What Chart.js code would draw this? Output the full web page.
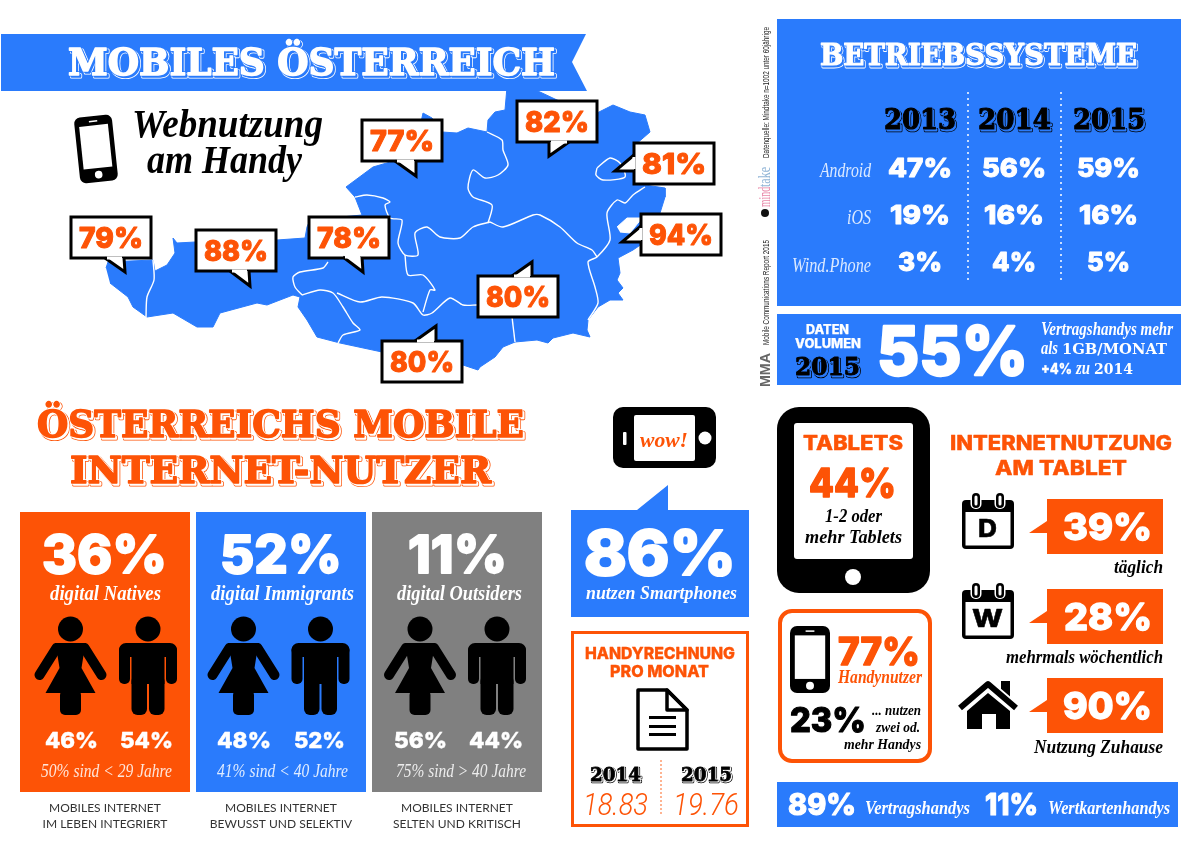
<!DOCTYPE html>
<html>
<head>
<meta charset="utf-8">
<title>Mobiles Österreich</title>
<script src="https://cdn.jsdelivr.net/npm/chart.js@4"></script>
<style>
  html, body { margin: 0; padding: 0; background: #fff; }
  canvas { display: block; }
</style>
</head>
<body>
<canvas id="myChart" width="1200" height="848"></canvas>
<script>
var regionShares = [79, 88, 78, 77, 82, 81, 94, 80, 80];
var osYears = ['2013', '2014', '2015'];
var osNames = ['Android', 'iOS', 'Wind.Phone'];
var androidShares = [47, 56, 59];
var iosShares = [19, 16, 16];
var windPhoneShares = [3, 4, 5];
var userTypes = ['digital Natives', 'digital Immigrants', 'digital Outsiders'];
var userShares = [36, 52, 11];
var femaleShares = [46, 48, 56];
var maleShares = [54, 52, 44];
var ageNotes = ['50% sind < 29 Jahre', '41% sind < 40 Jahre', '75% sind > 40 Jahre'];
var userNotes = [['MOBILES INTERNET', 'IM LEBEN INTEGRIERT'], ['MOBILES INTERNET', 'BEWUSST UND SELEKTIV'], ['MOBILES INTERNET', 'SELTEN UND KRITISCH']];
var smartphoneShare = [86];
var billYears = ['2014', '2015'];
var billValues = ['18.83', '19.76'];
var tabletShare = [44];
var tabletUseShares = [39, 28, 90];
var tabletUseNames = ['täglich', 'mehrmals wöchentlich', 'Nutzung Zuhause'];
var handyShares = [77, 23];
var contractShares = [89, 11];
var dataVolumeShare = [55];

// map drawing (country outline and state borders, not data)
var mapOutline = [[106,268],[108,262],[153,260],[155,271],[167,265],[175,253],[173,238],[177,243],[195,242],[277,240],[305,238],[307,227],[310,220],[362,215],[355,197],[346,187],[373,167],[397,160],[415,150],[423,113],[432,118],[442,132],[457,133],[468,128],[487,132],[488,120],[495,112],[505,110],[507,87],[518,87],[528,87],[540,92],[557,100],[597,113],[613,105],[630,112],[645,115],[650,132],[635,145],[645,185],[665,188],[665,197],[660,213],[655,235],[633,250],[618,258],[620,273],[617,280],[623,288],[618,293],[623,300],[610,300],[598,307],[588,320],[587,330],[590,337],[573,333],[553,338],[548,343],[537,340],[515,342],[503,347],[495,357],[480,367],[478,370],[463,365],[382,352],[340,343],[317,337],[307,320],[298,307],[300,297],[293,295],[267,305],[257,303],[220,313],[213,327],[197,327],[173,313],[147,317],[133,307],[128,297],[110,283]];
var mapLake = [[617,227],[627,218],[642,218],[630,233],[620,232]];
var mapBorders = [
  [[153,260],[154,280],[147,297],[146,317]],
  [[302,295],[295,287],[293,277],[300,272],[323,268],[328,262]],
  [[302,295],[320,290],[333,293],[343,307],[353,323],[360,330],[343,335],[338,343]],
  [[337,293],[360,302],[382,297],[413,303],[423,315],[432,313],[450,298],[463,305],[477,305]],
  [[512,317],[515,342]],
  [[423,312],[430,290],[435,290],[423,275],[408,275],[405,255]],
  [[355,197],[367,195],[383,198],[390,202],[385,205],[390,218],[402,220],[398,243],[405,255],[418,255],[415,233],[427,227],[440,237],[460,238],[473,227],[490,222]],
  [[487,132],[502,140],[503,150],[508,165],[498,175],[485,178],[473,170],[468,188],[473,197],[492,205],[488,223]],
  [[490,222],[503,227],[533,215],[540,215],[560,227],[577,243],[592,250],[597,257]],
  [[645,187],[633,195],[625,203],[617,200],[607,213],[610,240],[597,257],[588,262],[595,287],[598,303],[588,320]],
  [[597,168],[610,158],[620,163],[625,177],[603,180],[596,175],[597,168]]
];

// callout boxes on the map: box x, y, then tail
var regionBoxes = [
  [71,217,[[105,258],[125,272],[124,258]]],
  [196,230,[[230,271],[250,286],[249,271]]],
  [309,217,[[343,257],[363,272],[362,257]]],
  [362,120,[[395,161],[416,176],[416,161]]],
  [517,101,[[549,142],[549,156],[569,142]]],
  [634,143,[[634,155],[615,171],[634,171]]],
  [641,214,[[641,226],[622,242],[641,242]]],
  [478,276,[[512,276],[532,262],[532,276]]],
  [382,341,[[415,341],[436,326],[436,341]]]
];

var BLUE = '#2a7bfc';
var ORANGE = '#fd5306';
var GRAY = '#808080';

function pct(v) { return v + '%'; }
function heavy(s) { return '800 ' + s + 'px Inter'; }
function slab(s) { return 'bold ' + s + 'px "DejaVu Serif"'; }
function script(s) { return 'italic bold ' + s + 'px "Liberation Serif"'; }
function thinScript(s) { return 'italic ' + s + 'px "Liberation Serif"'; }

// text squeezed to run from x0 to x1, big heavy numbers get extra weight
function tx(ctx, str, x0, x1, base, font, color) {
  ctx.save();
  ctx.font = font;
  ctx.fillStyle = color;
  ctx.textAlign = 'left';
  ctx.textBaseline = 'alphabetic';
  var w = ctx.measureText(str).width;
  ctx.translate(x0, base);
  ctx.scale((x1 - x0) / w, 1);
  var m = font.match(/^800 ([\d.]+)px/);
  if (m) {
    var size = parseFloat(m[1]);
    ctx.strokeStyle = color;
    ctx.lineJoin = 'round';
    ctx.lineWidth = size * (size < 25 ? 0.02 : 0.035);
    ctx.strokeText(str, 0, 0);
  }
  ctx.fillText(str, 0, 0);
  ctx.restore();
}

// slab heading with the offset outline behind it
function retro(ctx, str, x0, x1, base, font, color, back, d) {
  ctx.save();
  ctx.font = font;
  ctx.textBaseline = 'alphabetic';
  var w = ctx.measureText(str).width;
  var grow = parseFloat(font.match(/([\d.]+)px/)[1]) * 0.04;
  ctx.translate(x0, base);
  ctx.scale((x1 - x0) / w, 1);
  ctx.lineJoin = 'round';
  ctx.strokeStyle = color;
  ctx.lineWidth = grow + 1.6;
  ctx.strokeText(str, d, d);
  ctx.strokeStyle = back;
  ctx.lineWidth = grow;
  ctx.fillStyle = back;
  ctx.strokeText(str, d, d);
  ctx.fillText(str, d, d);
  ctx.lineWidth = grow + 1.4;
  ctx.strokeText(str, 0, 0);
  ctx.strokeStyle = color;
  ctx.lineWidth = grow;
  ctx.strokeText(str, 0, 0);
  ctx.fillStyle = color;
  ctx.fillText(str, 0, 0);
  ctx.restore();
}

function rect(ctx, x, y, w, h, color) {
  ctx.fillStyle = color;
  ctx.fillRect(x, y, w, h);
}

function round(ctx, x, y, w, h, r, color) {
  ctx.fillStyle = color;
  ctx.beginPath();
  ctx.roundRect(x, y, w, h, r);
  ctx.fill();
}

function dot(ctx, x, y, r, color) {
  ctx.fillStyle = color;
  ctx.beginPath();
  ctx.arc(x, y, r, 0, Math.PI * 2);
  ctx.fill();
}

function poly(ctx, pts) {
  ctx.beginPath();
  pts.forEach(function (p, i) {
    if (i === 0) ctx.moveTo(p[0], p[1]);
    else ctx.lineTo(p[0], p[1]);
  });
  ctx.closePath();
}

function dotted(ctx, x, y0, y1, color, r, step) {
  for (var y = y0; y <= y1; y += step) dot(ctx, x, y, r, color);
}

function woman(ctx, cx) {
  dot(ctx, cx, 629, 12.5, '#000');
  ctx.fillStyle = '#000';
  poly(ctx, [[cx - 15, 643], [cx + 15, 643], [cx + 11, 668], [cx + 25, 693], [cx - 25, 693], [cx - 11, 668]]);
  ctx.fill();
  round(ctx, cx - 10.5, 690, 21, 25, 5, '#000');
  ctx.strokeStyle = '#000';
  ctx.lineWidth = 10;
  ctx.lineCap = 'round';
  ctx.beginPath();
  ctx.moveTo(cx - 14, 648);
  ctx.lineTo(cx - 31, 675);
  ctx.moveTo(cx + 14, 648);
  ctx.lineTo(cx + 31, 675);
  ctx.stroke();
  ctx.lineCap = 'butt';
}

function man(ctx, cx) {
  dot(ctx, cx, 629, 12.5, '#000');
  round(ctx, cx - 29, 643, 58, 14, 7, '#000');
  round(ctx, cx - 29, 645, 11, 39, 5, '#000');
  round(ctx, cx + 18, 645, 11, 39, 5, '#000');
  rect(ctx, cx - 16.5, 648, 33, 36, '#000');
  round(ctx, cx - 16.5, 675, 15.5, 40, 6, '#000');
  round(ctx, cx + 1, 675, 15.5, 40, 6, '#000');
}

function calendar(ctx, y, letter) {
  round(ctx, 962, y + 7, 52, 49, 4, '#000');
  rect(ctx, 965.5, y + 19, 45, 33.5, '#fff');
  [976, 1000].forEach(function (x) {
    round(ctx, x - 5.5, y - 1, 11, 17, 5, '#fff');
    round(ctx, x - 4, y, 8, 15, 4, '#000');
    round(ctx, x - 1.5, y + 2.5, 3, 10, 1.5, '#fff');
  });
  tx(ctx, letter, letter === 'W' ? 972 : 978, letter === 'W' ? 1003 : 997, y + 44, heavy(24), '#000');
}

function house(ctx) {
  rect(ctx, 1001, 681, 9, 16, '#000');
  ctx.strokeStyle = '#fff';
  ctx.lineWidth = 11;
  ctx.beginPath();
  ctx.moveTo(961, 708);
  ctx.lineTo(988, 685);
  ctx.lineTo(1015, 708);
  ctx.stroke();
  ctx.strokeStyle = '#000';
  ctx.lineWidth = 6;
  ctx.beginPath();
  ctx.moveTo(960, 708);
  ctx.lineTo(988, 684);
  ctx.lineTo(1016, 708);
  ctx.stroke();
  ctx.fillStyle = '#000';
  poly(ctx, [[967, 711], [988, 693], [1010, 711], [1010, 729], [996, 729], [996, 714], [982, 714], [982, 729], [967, 729]]);
  ctx.fill();
}

function handy(ctx, x, y, w, h, r) {
  round(ctx, x, y, w, h, r, '#000');
  rect(ctx, x + w * 0.12, y + h * 0.14, w * 0.76, h * 0.65, '#fff');
  dot(ctx, x + w / 2, y + h * 0.89, w * 0.1, '#fff');
  rect(ctx, x + w * 0.39, y + h * 0.065, w * 0.22, 1.5, '#fff');
}

function drawMapSection(ctx) {
  ctx.fillStyle = BLUE;
  poly(ctx, [[1, 34], [586, 34], [572, 62], [587, 91], [1, 91]]);
  ctx.fill();
  retro(ctx, 'MOBILES ÖSTERREICH', 68, 555, 75, slab(38), '#fff', BLUE, 2);

  ctx.save();
  ctx.translate(96, 149);
  ctx.rotate(-6 * Math.PI / 180);
  handy(ctx, -19, -33, 38, 66, 6);
  ctx.restore();
  tx(ctx, 'Webnutzung', 132, 323, 137, script(40), '#000');
  tx(ctx, 'am Handy', 147, 302, 173, script(40), '#000');

  regionShares.forEach(function (v, i) {
    var b = regionBoxes[i];
    var tail = b[2];
    var flat = tail[0][1] === tail[2][1];
    ctx.fillStyle = '#fff';
    ctx.strokeStyle = '#000';
    ctx.lineWidth = 3;
    ctx.lineJoin = 'miter';
    ctx.fillRect(b[0], b[1], 80, 41);
    ctx.strokeRect(b[0], b[1], 80, 41);
    poly(ctx, tail);
    ctx.fill();
    ctx.beginPath();
    ctx.moveTo(tail[0][0], tail[0][1]);
    ctx.lineTo(tail[1][0], tail[1][1]);
    ctx.lineTo(tail[2][0], tail[2][1]);
    ctx.stroke();
    // cover the box edge where the tail joins
    ctx.strokeStyle = '#fff';
    ctx.beginPath();
    ctx.moveTo(tail[0][0] + (flat ? 2 : 0), tail[0][1] + (flat ? 0 : 2));
    ctx.lineTo(tail[2][0] - (flat ? 2 : 0), tail[2][1] - (flat ? 0 : 2));
    ctx.stroke();
    tx(ctx, pct(v), b[0] + 8, b[0] + 72, b[1] + 31, heavy(29), ORANGE);
  });
}

function drawSidebar(ctx) {
  function vtext(str, y0, y1, x, font, color) {
    ctx.save();
    ctx.translate(x, y1);
    ctx.rotate(-Math.PI / 2);
    tx(ctx, str, 0, y1 - y0, 0, font, color);
    ctx.restore();
  }
  vtext('Datenquelle: Mindtake n=1002 unter 60jährige', 27, 158, 769, '9.5px "Liberation Sans"', '#222');
  vtext('mind', 187, 207, 770, '17px "Liberation Serif"', '#e887a8');
  vtext('take', 167, 187, 770, '17px "Liberation Serif"', '#8fb4d6');
  dot(ctx, 765, 213, 4, '#111');
  vtext('Mobile Communications Report 2015', 240, 345, 769, '9.5px "Liberation Sans"', '#222');
  vtext('MMA', 353, 387, 770, 'bold 15px "Liberation Sans"', '#666');
}

function drawSystems(ctx) {
  rect(ctx, 777, 19, 404, 287, BLUE);
  retro(ctx, 'BETRIEBSSYSTEME', 820, 1137, 65, slab(30), '#fff', BLUE, 1.5);
  var yearX = [[884, 956], [978, 1051], [1073, 1145]];
  var shareX = [[888, 952], [982, 1046], [1077, 1140]];
  osYears.forEach(function (y, i) {
    retro(ctx, y, yearX[i][0], yearX[i][1], 129, slab(28), '#000', BLUE, 1.5);
  });
  dotted(ctx, 968, 93, 283, '#fff', 1, 6);
  dotted(ctx, 1061, 93, 283, '#fff', 1, 6);
  [androidShares, iosShares, windPhoneShares].forEach(function (row, r) {
    var base = [177, 224, 271][r];
    row.forEach(function (v, i) {
      var ins = r === 2 ? 10 : (r === 1 ? 2 : 0);
      tx(ctx, pct(v), shareX[i][0] + ins, shareX[i][1] - ins, base, heavy(26), '#fff');
    });
  });
  tx(ctx, osNames[0], 820, 871, 177, thinScript(20), '#dbe9ff');
  tx(ctx, osNames[1], 847, 871, 224, thinScript(20), '#dbe9ff');
  tx(ctx, osNames[2], 792, 871, 272, thinScript(20), '#dbe9ff');

  rect(ctx, 777, 314, 404, 71, BLUE);
  tx(ctx, 'DATEN', 806, 849, 334, heavy(12.5), '#fff');
  tx(ctx, 'VOLUMEN', 795, 861, 348, heavy(12.5), '#fff');
  retro(ctx, '2015', 795, 860, 375, slab(24), '#000', BLUE, 1.5);
  tx(ctx, pct(dataVolumeShare[0]), 877, 1028, 375, heavy(68), '#fff');
  tx(ctx, 'Vertragshandys mehr', 1041, 1173, 335, script(19), '#fff');
  tx(ctx, 'als', 1041, 1058, 354, script(19), '#fff');
  tx(ctx, '1GB/MONAT', 1062, 1167, 354, slab(15), '#fff');
  tx(ctx, '+4%', 1041, 1072, 374, heavy(15), '#fff');
  tx(ctx, 'zu', 1076, 1090, 374, script(19), '#fff');
  tx(ctx, '2014', 1094, 1133, 374, slab(15), '#fff');
}

function drawUsers(ctx) {
  retro(ctx, 'ÖSTERREICHS MOBILE', 37, 524, 437, slab(38), ORANGE, '#fff', 2);
  retro(ctx, 'INTERNET-NUTZER', 70, 491, 483, slab(38), ORANGE, '#fff', 2);
  var panelX = [20, 196, 372];
  var panelColors = [ORANGE, BLUE, GRAY];
  var shareX = [[42, 167], [220, 342], [408, 507]];
  var typeX = [[50, 161], [211, 354], [397, 522]];
  var womanX = [70.5, 243.5, 420];
  var manX = [148, 320.5, 497];
  var femaleX = [[45, 98], [217, 271], [394, 447]];
  var maleX = [[120, 173], [294, 345], [469, 523]];
  var noteX = [[41, 172], [217, 348], [396, 526]];
  userShares.forEach(function (v, i) {
    rect(ctx, panelX[i], 512, 170, 280, panelColors[i]);
    tx(ctx, pct(v), shareX[i][0], shareX[i][1], 573, heavy(52), '#fff');
    tx(ctx, userTypes[i], typeX[i][0], typeX[i][1], 600, script(21), '#fff');
    woman(ctx, womanX[i]);
    man(ctx, manX[i]);
    tx(ctx, pct(femaleShares[i]), femaleX[i][0], femaleX[i][1], 748, heavy(22), '#fff');
    tx(ctx, pct(maleShares[i]), maleX[i][0], maleX[i][1], 748, heavy(22), '#fff');
    tx(ctx, ageNotes[i], noteX[i][0], noteX[i][1], 777, thinScript(19), 'rgba(255,255,255,0.85)');
    ctx.save();
    ctx.font = '12px Lato';
    ctx.fillStyle = '#333';
    ctx.textAlign = 'center';
    ctx.fillText(userNotes[i][0], panelX[i] + 85, 812);
    ctx.fillText(userNotes[i][1], panelX[i] + 85, 828);
    ctx.restore();
  });
}

function drawMiddle(ctx) {
  round(ctx, 613, 407, 103, 61, 10, '#000');
  round(ctx, 634, 415, 61, 46, 2, '#fff');
  round(ctx, 623, 432, 3.5, 13, 1, '#fff');
  dot(ctx, 705, 438, 6.5, '#fff');
  tx(ctx, 'wow!', 640, 688, 447, script(22), ORANGE);

  ctx.fillStyle = BLUE;
  poly(ctx, [[571, 510], [637, 510], [668, 485], [668, 510], [749, 510], [749, 617], [571, 617]]);
  ctx.fill();
  tx(ctx, pct(smartphoneShare[0]), 584, 736, 575, heavy(62), '#fff');
  tx(ctx, 'nutzen Smartphones', 586, 737, 599, script(19), '#fff');

  ctx.strokeStyle = ORANGE;
  ctx.lineWidth = 3;
  ctx.strokeRect(572.5, 632.5, 175, 193);
  tx(ctx, 'HANDYRECHNUNG', 585, 735, 659, heavy(16), ORANGE);
  tx(ctx, 'PRO MONAT', 610, 709, 677, heavy(16), ORANGE);

  ctx.strokeStyle = '#000';
  ctx.lineWidth = 3.5;
  ctx.lineJoin = 'round';
  poly(ctx, [[638, 690], [667, 690], [687, 710], [687, 749], [638, 749]]);
  ctx.stroke();
  poly(ctx, [[667, 690], [667, 710], [687, 710]]);
  ctx.stroke();
  rect(ctx, 649, 716, 27, 3, '#000');
  rect(ctx, 649, 725, 27, 3, '#000');
  rect(ctx, 649, 733, 27, 3, '#000');

  var yearX = [[590, 641], [681, 732]];
  var valueX = [[583, 648], [673, 739]];
  billYears.forEach(function (y, i) {
    retro(ctx, y, yearX[i][0], yearX[i][1], 781, slab(19), '#000', '#fff', 1);
    tx(ctx, billValues[i], valueX[i][0], valueX[i][1], 815, 'italic 300 31px Roboto', ORANGE);
  });
  dotted(ctx, 661, 761, 813, ORANGE, 0.8, 4);
}

function drawTablets(ctx) {
  round(ctx, 777, 407, 153, 186, 22, '#000');
  round(ctx, 794, 423, 119, 136, 3, '#fff');
  dot(ctx, 853, 577, 8, '#fff');
  tx(ctx, 'TABLETS', 803, 903, 450, heavy(20), ORANGE);
  tx(ctx, pct(tabletShare[0]), 809, 896, 497, heavy(40), ORANGE);
  tx(ctx, '1-2 oder', 825, 882, 522, script(18), '#000');
  tx(ctx, 'mehr Tablets', 805, 902, 543, script(18), '#000');

  tx(ctx, 'INTERNETNUTZUNG', 950, 1172, 450, heavy(20), ORANGE);
  tx(ctx, 'AM TABLET', 995, 1127, 475, heavy(20), ORANGE);

  calendar(ctx, 493, 'D');
  calendar(ctx, 583, 'W');
  house(ctx);

  var bubbleY = [499, 589, 678];
  var shareX = [[1063, 1152], [1064, 1152], [1063, 1152]];
  var nameX = [[1114, 1163], [1006, 1163], [1034, 1163]];
  var nameBase = [573, 663, 753];
  tabletUseShares.forEach(function (v, i) {
    var y = bubbleY[i];
    ctx.fillStyle = ORANGE;
    poly(ctx, [[1047, y], [1163, y], [1163, y + 55], [1047, y + 55], [1047, y + 34], [1029, y + 34], [1047, y + 22]]);
    ctx.fill();
    tx(ctx, pct(v), shareX[i][0], shareX[i][1], y + 41, heavy(37), '#fff');
    tx(ctx, tabletUseNames[i], nameX[i][0], nameX[i][1], nameBase[i], script(19), '#000');
  });

  ctx.strokeStyle = ORANGE;
  ctx.lineWidth = 4;
  ctx.beginPath();
  ctx.roundRect(780, 611, 150, 150, 12);
  ctx.stroke();
  handy(ctx, 790, 626, 40, 67, 7);
  tx(ctx, pct(handyShares[0]), 838, 920, 665, heavy(38), ORANGE);
  tx(ctx, 'Handynutzer', 838, 922, 683, script(18), ORANGE);
  tx(ctx, pct(handyShares[1]), 790, 866, 732, heavy(34), '#000');
  tx(ctx, '... nutzen', 872, 921, 715, script(14), '#000');
  tx(ctx, 'zwei od.', 876, 920, 732, script(14), '#000');
  tx(ctx, 'mehr Handys', 844, 921, 749, script(14), '#000');

  rect(ctx, 777, 782, 401, 45, BLUE);
  tx(ctx, pct(contractShares[0]), 788, 856, 815, heavy(30), '#fff');
  tx(ctx, 'Vertragshandys', 865, 970, 814, script(18), '#fff');
  tx(ctx, pct(contractShares[1]), 985, 1038, 815, heavy(30), '#fff');
  tx(ctx, 'Wertkartenhandys', 1048, 1170, 814, script(18), '#fff');
}

var posterPlugin = {
  id: 'poster',
  afterDatasetsDraw: function (chart) {
    var ctx = chart.ctx;
    ctx.save();
    drawMapSection(ctx);
    drawSidebar(ctx);
    drawSystems(ctx);
    drawUsers(ctx);
    drawMiddle(ctx);
    drawTablets(ctx);
    ctx.restore();
  }
};

function toPoints(pts) {
  return pts.map(function (p) { return { x: p[0], y: p[1] }; });
}

var datasets = [
  { data: toPoints(mapOutline), showLine: true, fill: 'shape', backgroundColor: BLUE, borderColor: BLUE, borderWidth: 1, pointRadius: 0, order: 3 },
  { data: toPoints(mapLake), showLine: true, fill: 'shape', backgroundColor: '#fff', borderColor: '#fff', borderWidth: 1, pointRadius: 0, order: 2 }
];
mapBorders.forEach(function (line) {
  datasets.push({ data: toPoints(line), showLine: true, fill: false, borderColor: '#fff', borderWidth: 1.4, tension: 0.25, pointRadius: 0, order: 1 });
});

new Chart(document.getElementById('myChart').getContext('2d'), {
  type: 'scatter',
  data: { datasets: datasets },
  options: {
    responsive: false,
    animation: false,
    layout: { padding: 0 },
    plugins: { legend: { display: false }, tooltip: { enabled: false } },
    scales: {
      x: { display: false, min: 0, max: 1200 },
      y: { display: false, min: 0, max: 848, reverse: true }
    }
  },
  plugins: [posterPlugin]
});
</script>
</body>
</html>
